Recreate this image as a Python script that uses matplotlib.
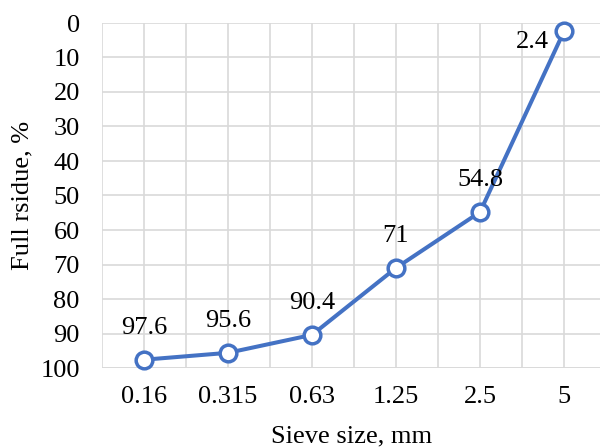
import matplotlib
matplotlib.use("Agg")
import matplotlib.pyplot as plt

categories = ["0.16", "0.315", "0.63", "1.25", "2.5", "5"]
residue = [97.6, 95.6, 90.4, 71, 54.8, 2.4]
labels = ["97.6", "95.6", "90.4", "71", "54.8", "2.4"]

FS = 19
plt.rcParams['font.family'] = ['Liberation Serif', 'DejaVu Serif']
fig = plt.figure(figsize=(6, 4.48), dpi=100)
ax = fig.add_axes([102/600, 80/448, 504/600, 345/448])

x = list(range(len(categories)))
ax.plot(x, residue, color='#4472C4', lw=2.9, marker='o', ms=12,
        mfc='white', mec='#4472C4', mew=2.5, zorder=3, clip_on=False)

for i, (v, t) in enumerate(zip(residue, labels)):
    if i == len(residue) - 1:
        ax.annotate(t, (i, v), xytext=(-11, -8), textcoords='offset points',
                    ha='right', va='center', fontsize=FS)
    else:
        ax.annotate(t, (i, v), xytext=(0, 23), textcoords='offset points',
                    ha='center', va='center', fontsize=FS)

ax.set_xlim(-0.5, 5.5)
ax.set_ylim(100, 0)
ax.set_yticks(range(0, 101, 10))
ax.set_xticks(x)
ax.set_xticklabels(categories)
ax.set_xticks([i + 0.5 for i in range(-1, 6)], minor=True)
ax.grid(True, which='major', color='#D9D9D9', lw=1.2)
ax.grid(True, which='minor', axis='x', color='#D9D9D9', lw=1.2)
ax.tick_params(which='both', length=0, labelsize=FS)
ax.tick_params(axis='x', pad=13)
ax.tick_params(axis='y', pad=16)
for s in ax.spines.values():
    s.set_visible(False)
ax.axhline(100, color='#D9D9D9', lw=1.2)
ax.set_axisbelow(True)

fig.text(352/600, 1 - 436/448, "Sieve size, mm", ha='center', va='center', fontsize=FS)
fig.text(22/600, 1 - 195/448, "Full rsidue, %", ha='center', va='center', rotation=90, fontsize=FS)

fig.savefig("out.png", dpi=100)
